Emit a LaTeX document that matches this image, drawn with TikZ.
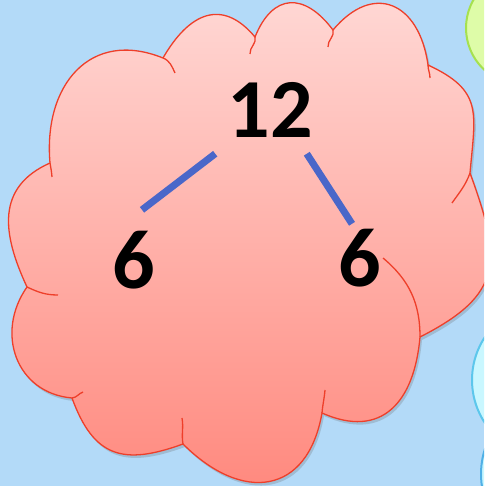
\documentclass[tikz,border=0pt]{standalone}
\usepackage{fontspec}
\setmainfont{Carlito}
\usetikzlibrary{calc, shadows}
\definecolor{sky}{HTML}{B3DAF8}
\definecolor{cloudtop}{HTML}{FFDAD7}
\definecolor{cloudbot}{HTML}{FF877C}
\definecolor{cloudline}{HTML}{EE3F2A}
\definecolor{link}{HTML}{4A67C9}
\definecolor{limefill}{HTML}{DEFCA8}
\definecolor{limeline}{HTML}{A6E14F}
\definecolor{aquafill}{HTML}{C9F7FF}
\definecolor{aqualine}{HTML}{5CC7EC}
\definecolor{blueline}{HTML}{4FB0E6}

\begin{document}
\begin{tikzpicture}[x=1pt, y=1pt,
    num/.style={font=\fontsize{84}{84}\selectfont\bfseries, inner sep=0pt},
    branch/.style={link, line width=7pt},
    edge/.style={cloudline, line width=1.3pt},
    bubble/.style={line width=2pt}]
  \useasboundingbox (0,0) rectangle (484,486);
  \clip (0,0) rectangle (484,486);
  \fill[sky] (0,0) rectangle (484,486);
  % Side bubbles, cut by the frame
  \filldraw[bubble, fill=limefill, draw=limeline] (523,458) circle (57);
  \filldraw[bubble, fill=aquafill, draw=aqualine] (550,106) circle (78);
  \filldraw[bubble, fill=aquafill, draw=blueline] (562,12) circle (81);
  % Cloud outline
  \path[edge, draw, top color=cloudtop, bottom color=cloudbot,
        drop shadow={shadow xshift=2pt, shadow yshift=-3pt, opacity=0.25, fill=black!60}]
    (50,323)
    to[out=95, in=158, looseness=1.3] (163,428)
    to[out=60, in=130, looseness=1.4] (255,449)
    to[out=68, in=127, looseness=1.55] (333,456)
    to[out=50, in=98, looseness=1.6] (428,421)
    to[out=-25, in=85, looseness=1.35] (470,313)
    to[out=-70, in=27, looseness=1.4] (420,149)
    to[out=-95, in=-24, looseness=1.35] (322,73)
    to[out=-100, in=-45, looseness=1.5] (183,42)
    to[out=-160, in=-70, looseness=1.35] (72,88)
    to[out=175, in=-125, looseness=1.2] (27,199)
    to[out=115, in=-156, looseness=1.2] cycle;
  % Inner arcs of the cloud
  \draw[edge] (163,428) to[out=-22, in=115] (175,413);
  \draw[edge] (255,449) to[out=-75, in=95] (250,432);
  \draw[edge] (333,456) to[out=-75, in=95] (328,439);
  \draw[edge] (428,421) to[out=-90, in=90] (430,408);
  \draw[edge] (470,313) to[out=-110, in=55] (452,283);
  \draw[edge] (383,228) to[out=-40, in=90] (420,149);
  \draw[edge] (325,96) to[out=-95, in=85] (322,73);
  \draw[edge] (182,68) to[out=-80, in=100] (183,42);
  \draw[edge] (72,88) to[out=5, in=-160] (83,94);
  \draw[edge] (27,199) to[out=-25, in=180] (58,191);
  \draw[edge] (50,323) to[out=-80, in=95] (52,309);
  % Numbers
  \node[num] (top) at (270,376) {12};
  \node[num] (left) at (134,226) {6};
  \node[num] (right) at (360,228) {6};
  \draw[branch] ([shift={(-12,-16)}]top.south west) -- ([shift={(8,21)}]left.north);
  \draw[branch] ([shift={(-6,-16)}]top.south east) -- ([shift={(-8,5)}]right.north);
\end{tikzpicture}
\end{document}
